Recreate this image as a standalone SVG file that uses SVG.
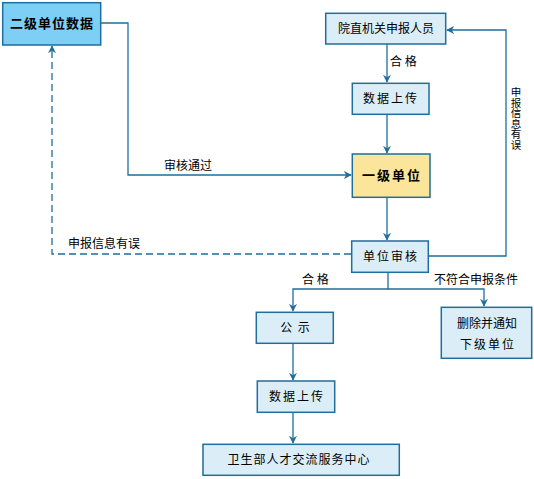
<svg xmlns="http://www.w3.org/2000/svg" width="534" height="479" viewBox="0 0 534 479">
<defs>
<marker id="ah" viewBox="0 0 10 10" refX="9" refY="5" markerWidth="8" markerHeight="8" markerUnits="userSpaceOnUse" orient="auto">
<path d="M0,0 L10,5 L0,10 L3,5 Z" fill="#1f6e9c"/>
</marker>
</defs>
<style>
.box{fill:#dbeef8;stroke:#1f6e9c;stroke-width:1.5}
.t{font-family:"Noto Sans CJK SC","Liberation Sans",sans-serif;font-size:12px;fill:#000;text-anchor:middle}
.b{font-weight:bold;font-size:13px}
.l{font-family:"Noto Sans CJK SC","Liberation Sans",sans-serif;font-size:12px;fill:#000}
.v{font-family:"Noto Sans CJK SC","Liberation Sans",sans-serif;font-size:10.5px;fill:#000;writing-mode:vertical-rl;text-orientation:upright}
.c{fill:none;stroke:#1f6e9c;stroke-width:1.3}
.d{stroke-dasharray:7,4}
</style>
<rect width="534" height="479" fill="#fff"/>
<g id="connectors">
<path class="c" d="M101,23 H128 V175 H351" marker-end="url(#ah)"/>
<path class="c" d="M387,44 V82" marker-end="url(#ah)"/>
<path class="c" d="M387,114 V153" marker-end="url(#ah)"/>
<path class="c" d="M387,197 V240" marker-end="url(#ah)"/>
<path class="c d" d="M351,254 H52 V46" marker-end="url(#ah)"/>
<path class="c" d="M428,256 H506 V30 H447" marker-end="url(#ah)"/>
<path class="c" d="M388,272 V289 H293 V311" marker-end="url(#ah)"/>
<path class="c" d="M388,289 H484 V306" marker-end="url(#ah)"/>
<path class="c" d="M293,343 V380" marker-end="url(#ah)"/>
<path class="c" d="M293,412 V443" marker-end="url(#ah)"/>
<text class="l" x="390" y="66">合 格</text>
<text class="l" x="164" y="170">审核通过</text>
<text class="l" x="68" y="248">申报信息有误</text>
<text class="l" x="302" y="284">合 格</text>
<text class="l" x="434" y="284">不符合申报条件</text>
<text class="v" x="516" y="87">申报信息有误</text>
</g>
<g id="n1">
<rect x="2.7" y="2.7" width="98" height="42.3" fill="#7dcff6" stroke="#1f6e9c" stroke-width="1.5"/>
<text class="t b" x="52" y="28" letter-spacing="1">二级单位数据</text>
</g>
<g id="n2">
<rect class="box" x="325.7" y="13.3" width="120" height="30.7"/>
<text class="t" x="386" y="33">院直机关申报人员</text>
</g>
<g id="n3">
<rect class="box" x="352.3" y="83.3" width="76.7" height="31"/>
<text class="t" x="391" y="103" letter-spacing="2">数据上传</text>
</g>
<g id="n4">
<rect x="352.3" y="154" width="77.7" height="43.3" fill="#fbe59b" stroke="#1f6e9c" stroke-width="1.5"/>
<text class="t b" x="392" y="180" letter-spacing="2">一级单位</text>
</g>
<g id="n5">
<rect class="box" x="351.7" y="241" width="76.6" height="31.3"/>
<text class="t" x="391" y="261" letter-spacing="2">单位审核</text>
</g>
<g id="n6">
<rect class="box" x="256.3" y="312.3" width="77" height="31"/>
<text class="t" x="295" y="332" xml:space="preserve">公  示</text>
</g>
<g id="n7">
<rect class="box" x="441.3" y="307.3" width="90.4" height="51"/>
<text class="t" x="487" y="328">删除并通知</text>
<text class="t" x="488" y="349" letter-spacing="2">下级单位</text>
</g>
<g id="n8">
<rect class="box" x="257.3" y="381" width="77.4" height="31.3"/>
<text class="t" x="297" y="401" letter-spacing="2">数据上传</text>
</g>
<g id="n9">
<rect class="box" x="203" y="444.3" width="196.3" height="31"/>
<text class="t" x="299" y="464" letter-spacing="1">卫生部人才交流服务中心</text>
</g>
</svg>
